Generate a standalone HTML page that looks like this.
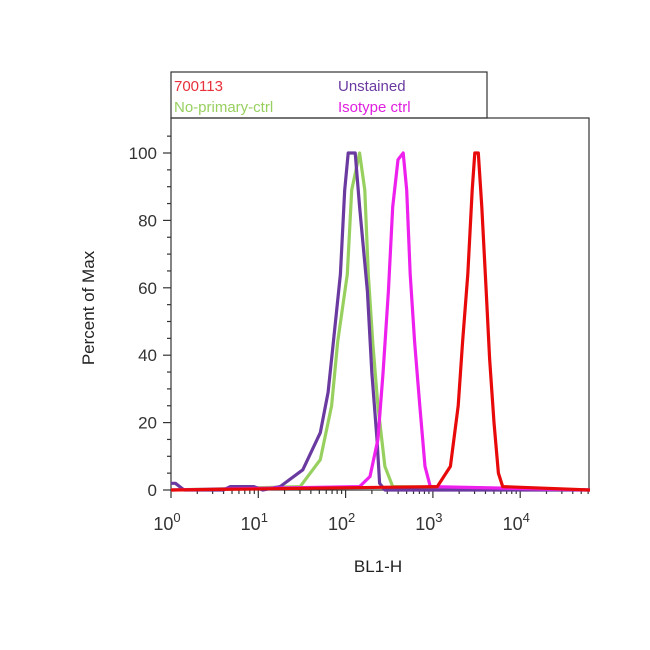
<!DOCTYPE html>
<html><head><meta charset="utf-8"><style>
body{margin:0;background:#fff;}
svg{display:block;font-family:"Liberation Sans",Arial,sans-serif;}
</style></head><body>
<svg id="chart" width="650" height="650" viewBox="0 0 650 650">
<rect width="650" height="650" fill="#fff"/>
<g id="legend">
<rect x="171" y="72" width="316" height="46" fill="#fff" stroke="#333" stroke-width="1.2"/>
<text x="174" y="91" font-size="15" fill="#e8303a">700113</text>
<text x="338" y="91" font-size="15" fill="#6a3aa0">Unstained</text>
<text x="174" y="112" font-size="15" fill="#98d060">No-primary-ctrl</text>
<text x="338" y="112" font-size="15" fill="#e020e0">Isotype ctrl</text>
</g>
<g id="axes"></g>
<g id="series"></g>
<text x="378" y="572" font-size="17" fill="#222" text-anchor="middle">BL1-H</text>
<text transform="translate(94,308) rotate(-90)" font-size="17" fill="#222" text-anchor="middle">Percent of Max</text>
</svg>
<script>
// data: log10 intensity and percent of max
const unstainedLog = [0, 0.05, 0.15, 0.6, 0.68, 0.95, 1.05, 1.25, 1.51, 1.71, 1.80, 1.86, 1.94, 1.99, 2.03, 2.11, 2.16, 2.25, 2.30, 2.36, 2.39, 2.45, 4.8];
const unstainedPct = [2, 2, 0, 0, 1, 1, 0, 1, 6, 17, 29, 44, 64, 89, 100, 100, 84, 59, 35, 15, 2, 0, 0];
const noPrimaryLog = [0, 1.48, 1.71, 1.84, 1.91, 2.02, 2.07, 2.16, 2.22, 2.26, 2.31, 2.37, 2.45, 2.54, 4.8];
const noPrimaryPct = [0, 1, 9, 25, 44, 64, 89, 100, 89, 64, 44, 25, 7, 1, 0];
const isotypeLog = [0, 2.16, 2.28, 2.37, 2.43, 2.49, 2.54, 2.60, 2.66, 2.70, 2.74, 2.79, 2.85, 2.91, 2.97, 4.8];
const isotypePct = [0, 1, 4, 15, 35, 59, 84, 98, 100, 89, 64, 44, 25, 7, 1, 0];
const sampleLog = [0, 3.05, 3.20, 3.29, 3.34, 3.40, 3.45, 3.48, 3.52, 3.56, 3.61, 3.65, 3.70, 3.75, 3.80, 4.8];
const samplePct = [0, 1, 7, 25, 44, 64, 89, 100, 100, 84, 59, 39, 20, 5, 1, 0];
const xTickExps = [0, 1, 2, 3, 4];
const yTicks = [0, 20, 40, 60, 80, 100];

const NS = "http://www.w3.org/2000/svg";
const X0 = 171, PXD = 87.3, Y0 = 490, PXP = 3.37, XR = 589, YT = 118;
function xs(l){ return X0 + l * PXD; }
function ys(p){ return Y0 - p * PXP; }
function mk(tag, attrs, parent){ const e = document.createElementNS(NS, tag); for (const k in attrs) e.setAttribute(k, attrs[k]); parent.appendChild(e); return e; }

const axes = document.getElementById('axes');
const frame = mk('rect', {x: X0, y: YT, width: XR - X0, height: Y0 - YT, fill: 'none', stroke: '#333', 'stroke-width': 1.2}, axes);



// y ticks
for (let v = 0; v <= 105; v += 5) {
  const major = v % 20 === 0;
  const t = mk('line', {x1: X0, x2: X0 - (major ? 8 : 4), y1: ys(v), y2: ys(v), stroke: '#333', 'stroke-width': 1.2}, axes);
  
  
}
yTicks.forEach(v => {
  const t = mk('text', {x: X0 - 14, y: ys(v) + 6, 'font-size': 17, fill: '#333', 'text-anchor': 'end'}, axes);
  t.textContent = v;
  
  
});
// x ticks
for (let d = 0; d < 5; d++) {
  for (let m = 1; m <= 9; m++) {
    const l = d + Math.log10(m);
    if (xs(l) > XR) break;
    const t = mk('line', {x1: xs(l), x2: xs(l), y1: Y0, y2: Y0 + (m === 1 ? 8 : 4), stroke: '#333', 'stroke-width': 1.2}, axes);
    
    
  }
}
xTickExps.forEach(e => {
  const t = mk('text', {x: xs(e) - 4, y: Y0 + 40, 'font-size': 18, fill: '#333', 'text-anchor': 'middle'}, axes);
  t.textContent = '10';
  const s = mk('tspan', {dy: -8, 'font-size': 13}, t);
  s.textContent = e;
  
  
});

const series = document.getElementById('series');
function draw(logs, pcts, color, name) {
  const pts = logs.map((l, i) => xs(l).toFixed(1) + ',' + ys(pcts[i]).toFixed(1)).join(' ');
  const p = mk('polyline', {points: pts, fill: 'none', stroke: color, 'stroke-width': 3.2, 'stroke-linejoin': 'round'}, series);
  
  
}
draw(noPrimaryLog, noPrimaryPct, '#98d060', 'series-no-primary-ctrl');
draw(unstainedLog, unstainedPct, '#6a3aa0', 'series-unstained');
draw(isotypeLog, isotypePct, '#ee20ee', 'series-isotype-ctrl');
draw(sampleLog, samplePct, '#e80a0a', 'series-700113');
</script>
</body></html>
